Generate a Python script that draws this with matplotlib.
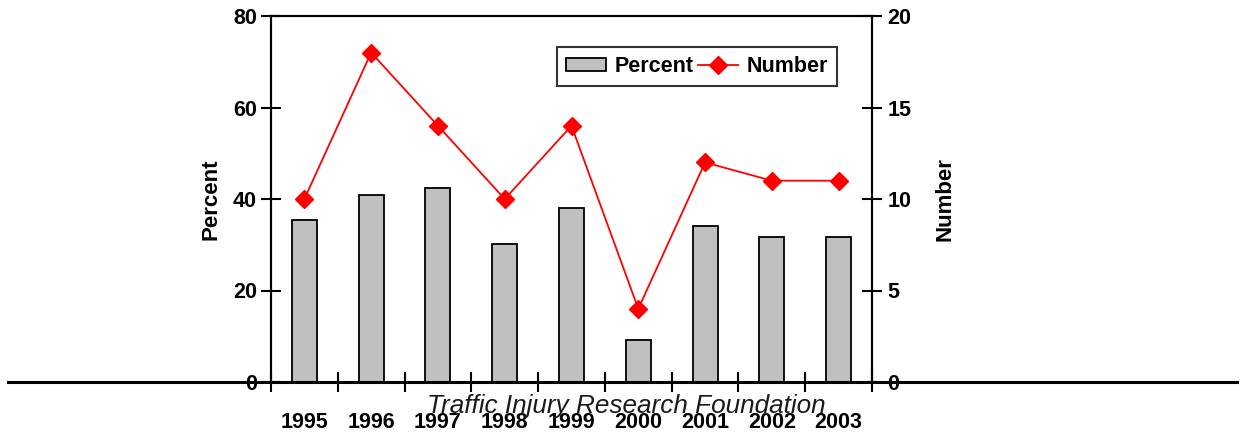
import matplotlib
matplotlib.use("Agg")
import matplotlib.pyplot as plt
from matplotlib.lines import Line2D
import numpy as np

years = ["1995", "1996", "1997", "1998", "1999", "2000", "2001", "2002", "2003"]
percent = [35.5, 40.8, 42.5, 30.2, 38.1, 9.2, 34.2, 31.6, 31.6]
number = [10, 18, 14, 10, 14, 4, 12, 11, 11]

plt.rcParams["font.family"] = ["Liberation Sans", "DejaVu Sans"]
plt.rcParams["font.weight"] = "bold"

fig = plt.figure(figsize=(12.4, 4.32), dpi=100)
ax = fig.add_axes([271 / 1240, 50 / 432, 601 / 1240, 366 / 432])
ax2 = ax.twinx()

x = np.arange(len(years))
bars = ax.bar(x, percent, width=0.375, color="#c0c0c0", edgecolor="black",
              linewidth=1.3, label="Percent", zorder=2)
line, = ax2.plot(x, number, color="#ff0000", linewidth=1.3, marker="D",
                 markersize=9.5, markeredgecolor="#ff0000", label="Number",
                 zorder=3)

ax.set_xlim(-0.5, len(years) - 0.5)
ax.set_ylim(0, 80)
ax2.set_ylim(0, 20)
ax.set_yticks([0, 20, 40, 60, 80])
ax2.set_yticks([0, 5, 10, 15, 20])

# category boundaries carry the x ticks; year labels sit below
ax.set_xticks(np.arange(-0.5, len(years), 1.0))
ax.set_xticklabels([])
for xi, yr in zip(x, years):
    ax.text(xi, -0.11, yr, transform=ax.get_xaxis_transform(),
            ha="center", va="center", fontsize=15.5, fontweight="bold",
            zorder=11)

for a in (ax, ax2):
    for s in a.spines.values():
        s.set_linewidth(1.5)
    a.spines["bottom"].set_visible(False)
    a.tick_params(axis="y", direction="inout", length=14, width=1.5,
                  labelsize=15.5, pad=4)
ax.tick_params(axis="x", direction="inout", length=15, width=1.5)
ax.tick_params(axis="y", pad=3)
ax2.tick_params(axis="y", pad=4)

ax.set_ylabel("Percent", fontsize=16, fontweight="bold", labelpad=8)
ax2.set_ylabel("Number", fontsize=16, fontweight="bold", labelpad=17)

# baseline running across the whole figure
fig.add_artist(Line2D([8 / 1240, 1237 / 1240], [50 / 432, 50 / 432],
                      transform=fig.transFigure, color="black", linewidth=2.2))

leg = ax.legend([bars, line], ["Percent", "Number"], loc="upper left",
                bbox_to_anchor=((557 - 271) / 601, (432 - 47 - 50) / 366),
                ncol=2, frameon=True, fancybox=False, fontsize=15.5,
                handlelength=1.85, handleheight=0.55, columnspacing=0.2,
                handletextpad=0.4, borderpad=0.42, borderaxespad=0)
leg.get_frame().set_edgecolor("black")
leg.get_frame().set_linewidth(1.5)
leg.set_zorder(5)

fig.text(626 / 1240, (432 - 406) / 432, "Traffic Injury Research Foundation",
         ha="center", va="center", fontsize=18.8, fontstyle="italic",
         fontweight="normal", color="#1a1a1a", zorder=10)

fig.savefig("out.png", dpi=100)
